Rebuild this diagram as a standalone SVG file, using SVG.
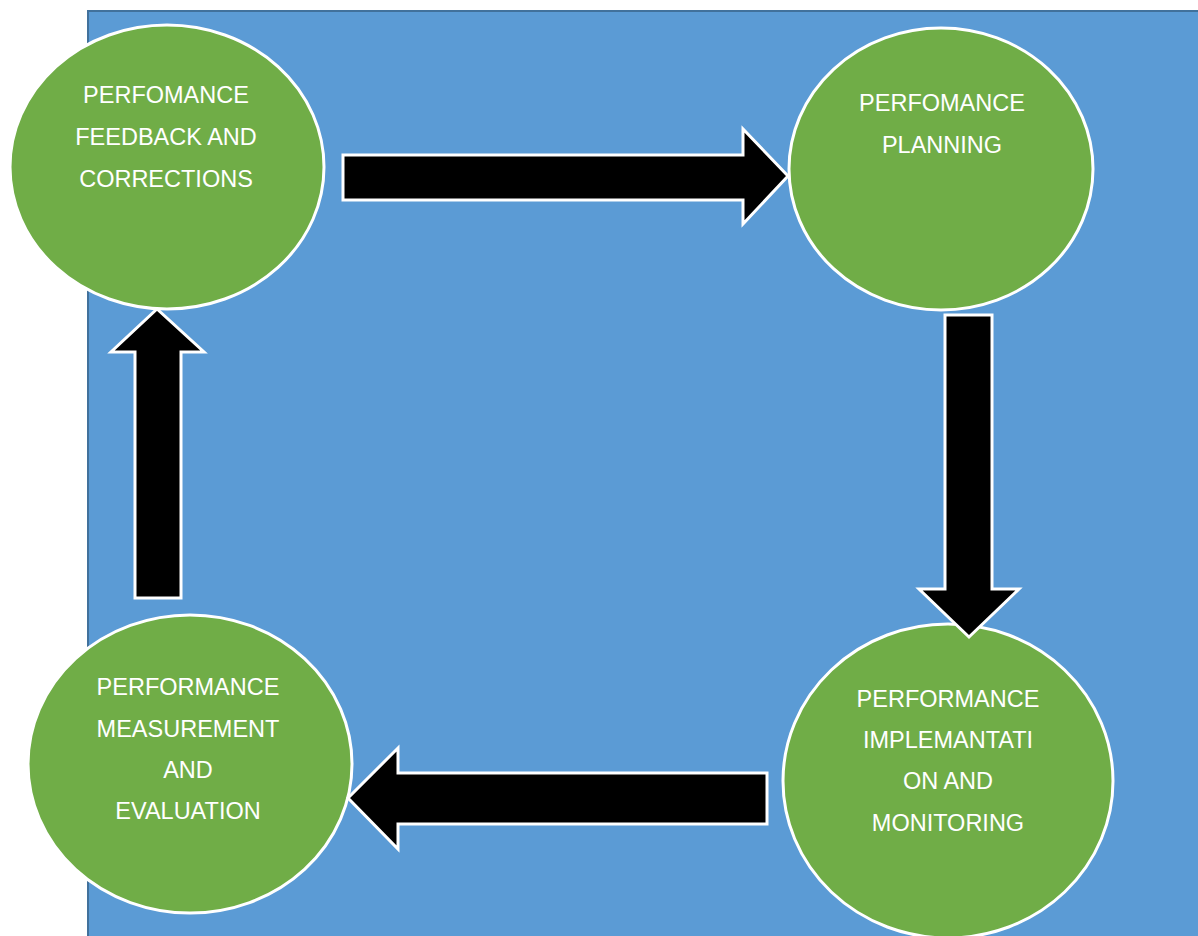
<svg xmlns="http://www.w3.org/2000/svg" width="1198" height="936" viewBox="0 0 1198 936">
<style>
.bg{fill:#5B9BD5;stroke:#41719C;stroke-width:2}
.node{fill:#70AD47;stroke:#FFFFFF;stroke-width:3}
.arrow{fill:#000000;stroke:#FFFFFF;stroke-width:3;stroke-linejoin:miter}
.label{fill:#FFFFFF;font-family:"Liberation Sans",Arial,sans-serif;font-size:23.5px;text-anchor:middle}
</style>
<rect x="0" y="0" width="1198" height="936" fill="#FFFFFF"/>
<rect class="bg" x="88" y="11" width="1120" height="940"/>
<g id="node-feedback">
<ellipse class="node" cx="167" cy="167" rx="157" ry="142"/>
<text class="label" x="166" y="103">PERFOMANCE</text>
<text class="label" x="166" y="145">FEEDBACK AND</text>
<text class="label" x="166" y="187">CORRECTIONS</text>
</g>
<g id="node-planning">
<ellipse class="node" cx="941" cy="169" rx="152" ry="141"/>
<text class="label" x="942" y="111">PERFOMANCE</text>
<text class="label" x="942" y="153">PLANNING</text>
</g>
<g id="node-implementation">
<ellipse class="node" cx="948" cy="781" rx="165" ry="157"/>
<text class="label" x="948" y="707">PERFORMANCE</text>
<text class="label" x="948" y="748">IMPLEMANTATI</text>
<text class="label" x="948" y="789">ON AND</text>
<text class="label" x="948" y="831">MONITORING</text>
</g>
<g id="node-measurement">
<ellipse class="node" cx="190" cy="764" rx="162" ry="149"/>
<text class="label" x="188" y="695">PERFORMANCE</text>
<text class="label" x="188" y="737">MEASUREMENT</text>
<text class="label" x="188" y="778">AND</text>
<text class="label" x="188" y="819">EVALUATION</text>
</g>
<g id="connectors">
<polygon class="arrow" points="343,155 743,155 743,129 788,176 743,224 743,200 343,200"/>
<polygon class="arrow" points="945,315 992,315 992,589 1019,589 969,637 919,589 945,589"/>
<polygon class="arrow" points="767,773 767,824 398,824 398,849 348,798 398,748 398,773"/>
<polygon class="arrow" points="135,598 181,598 181,352 204,352 157,309 111,352 135,352"/>
</g>
</svg>
